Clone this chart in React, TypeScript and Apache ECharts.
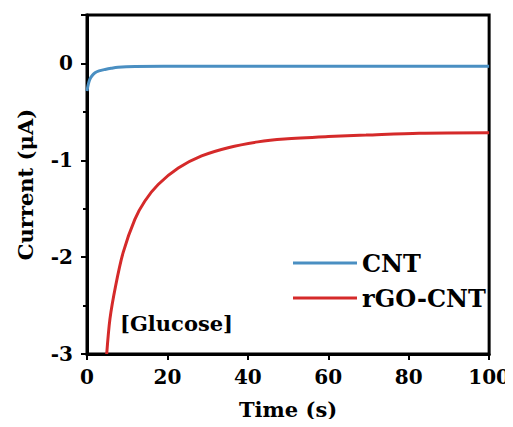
import React, { useEffect, useRef } from "react";
import * as echarts from "echarts";

const cntTime = [0, 0.3, 0.7, 1.3, 2, 3, 4.5, 6, 7.7, 12, 19, 40, 70, 100];
const cntCurrent = [-0.285, -0.22, -0.165, -0.125, -0.096, -0.077, -0.062, -0.05, -0.04, -0.032, -0.03, -0.03, -0.03, -0.03];

const rgoTime = [4.9, 5.7, 7.1, 9.0, 11.9, 14.4, 17.7, 22.7, 28.5, 35.1, 42.5, 49.1, 60, 69.4, 82.6, 100];
const rgoCurrent = [-3.0, -2.64, -2.3, -1.95, -1.61, -1.42, -1.25, -1.08, -0.955, -0.87, -0.81, -0.78, -0.755, -0.74, -0.72, -0.715];

const seriesNames = ["CNT", "rGO-CNT"];
const xTitle = "Time (s)";
const yTitle = "Current (μA)";
const annotation = "[Glucose]";

const FONT = "DejaVu Serif";

export default function App() {
  const ref = useRef<HTMLDivElement>(null);
  useEffect(() => {
    if (!ref.current) return;
    const chart = echarts.init(ref.current, null, { renderer: "svg" });
    const axisLine = { show: true, onZero: false, lineStyle: { color: "#000", width: 3 } };
    chart.setOption({
      animation: false,
      backgroundColor: "#fff",
      textStyle: { fontFamily: FONT },
      grid: { left: 87, right: 23, top: 15, bottom: 73, show: true, borderColor: "#000", borderWidth: 3 },
      legend: {
        orient: "vertical",
        left: 288,
        top: 245,
        icon: "rect",
        itemWidth: 64,
        itemHeight: 3,
        itemGap: 9,
        textStyle: { fontFamily: FONT, fontWeight: "bold", fontSize: 24, color: "#000", lineHeight: 26 },
        data: seriesNames,
      },
      xAxis: {
        type: "value",
        min: 0,
        max: 100,
        interval: 20,
        name: xTitle,
        nameLocation: "middle",
        nameGap: 45,
        nameTextStyle: { fontFamily: FONT, fontWeight: "bold", fontSize: 21, color: "#000" },
        axisLine,
        axisTick: { show: true, inside: false, length: 6, lineStyle: { color: "#000", width: 2 } },
        axisLabel: { margin: 13, fontFamily: FONT, fontWeight: "bold", fontSize: 20, color: "#000" },
        splitLine: { show: false },
      },
      yAxis: {
        type: "value",
        min: -3,
        max: 0.5,
        interval: 1,
        name: yTitle,
        nameLocation: "middle",
        nameGap: 51,
        nameTextStyle: { fontFamily: FONT, fontWeight: "bold", fontSize: 21, color: "#000" },
        axisLine,
        axisTick: { show: true, inside: false, length: 6, lineStyle: { color: "#000", width: 2 } },
        minorTick: { show: true, splitNumber: 2, length: 4, lineStyle: { color: "#000", width: 2 } },
        axisLabel: { margin: 14, showMaxLabel: false, fontFamily: FONT, fontWeight: "bold", fontSize: 20, color: "#000" },
        splitLine: { show: false },
      },
      graphic: [
        {
          type: "text",
          left: 120,
          top: 313,
          style: { text: annotation, fontFamily: FONT, fontWeight: "bold", fontSize: 21, fill: "#000" },
        },
      ],
      series: [
        {
          name: seriesNames[0],
          type: "line",
          data: cntTime.map((t, i) => [t, cntCurrent[i]]),
          showSymbol: false,
          symbol: "none",
          smooth: 0.3,
          clip: true,
          lineStyle: { color: "#4a8fc2", width: 3 },
          itemStyle: { color: "#4a8fc2" },
        },
        {
          name: seriesNames[1],
          type: "line",
          data: rgoTime.map((t, i) => [t, rgoCurrent[i]]),
          showSymbol: false,
          symbol: "none",
          smooth: 0.3,
          clip: true,
          lineStyle: { color: "#d52a2a", width: 3 },
          itemStyle: { color: "#d52a2a" },
        },
      ],
    });
    return () => chart.dispose();
  }, []);
  return <div ref={ref} style={{ width: 513, height: 427, margin: -8 }} />;
}
